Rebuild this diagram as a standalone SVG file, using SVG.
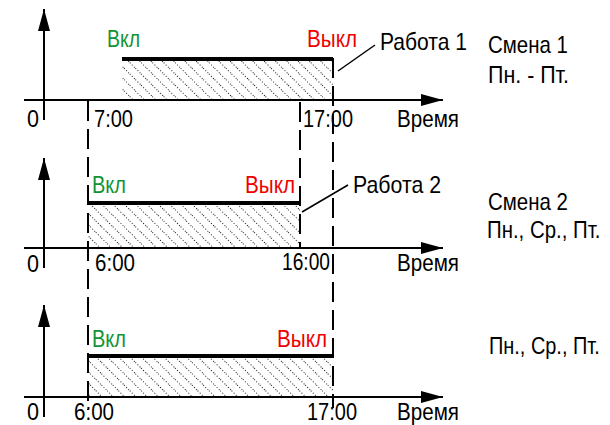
<svg xmlns="http://www.w3.org/2000/svg" width="610" height="425" viewBox="0 0 610 425">
<style>
text{font-family:"Liberation Sans",Arial,sans-serif;font-size:24px;fill:#000}
.on{fill:#119433}
.off{fill:#f00000}
.ax{stroke:#000;stroke-width:2;fill:none}
.bar{stroke:#000;stroke-width:4}
.dash{stroke:#000;stroke-width:2;stroke-dasharray:20 8;fill:none}
.lead{stroke:#000;stroke-width:1.5}
</style>
<defs>
<marker id="ah" markerWidth="22" markerHeight="12" refX="22" refY="6" orient="auto" markerUnits="userSpaceOnUse">
<path d="M0,0 L22,6 L0,12 Z" fill="#000"/>
</marker>
<pattern id="hatch" patternUnits="userSpaceOnUse" width="8" height="8" patternTransform="rotate(45)">
<line x1="0" y1="0.5" x2="8" y2="0.5" stroke="#222" stroke-width="1" stroke-dasharray="1 2"/>
</pattern>
</defs>

<g id="panel1">
<rect x="122" y="60" width="211" height="40" fill="url(#hatch)"/>
<line class="bar" x1="122" y1="59" x2="333" y2="59"/>
<line class="ax" x1="44" y1="120" x2="44" y2="9" marker-end="url(#ah)"/>
<line class="ax" x1="24" y1="100" x2="443" y2="100" marker-end="url(#ah)"/>
<text x="27" y="127" textLength="12" lengthAdjust="spacingAndGlyphs">0</text>
<text x="94" y="127" textLength="39" lengthAdjust="spacingAndGlyphs">7:00</text>
<text x="303" y="127" textLength="50" lengthAdjust="spacingAndGlyphs">17:00</text>
<text x="397" y="127" textLength="62" lengthAdjust="spacingAndGlyphs">Время</text>
<text class="on" x="107" y="47" textLength="33" lengthAdjust="spacingAndGlyphs">Вкл</text>
<text class="off" x="307" y="47" textLength="50" lengthAdjust="spacingAndGlyphs">Выкл</text>
<text x="380" y="50" textLength="87" lengthAdjust="spacingAndGlyphs">Работа 1</text>
<text x="488" y="53" textLength="80" lengthAdjust="spacingAndGlyphs">Смена 1</text>
<text x="488" y="83" textLength="81" lengthAdjust="spacingAndGlyphs">Пн. - Пт.</text>
</g>

<g id="panel2">
<rect x="88" y="204" width="212" height="44" fill="url(#hatch)"/>
<line class="bar" x1="88" y1="203" x2="300" y2="203"/>
<line class="ax" x1="44" y1="268" x2="44" y2="158" marker-end="url(#ah)"/>
<line class="ax" x1="24" y1="248" x2="443" y2="248" marker-end="url(#ah)"/>
<text x="27" y="272" textLength="12" lengthAdjust="spacingAndGlyphs">0</text>
<text x="95" y="271" textLength="40" lengthAdjust="spacingAndGlyphs">6:00</text>
<text x="282" y="270" textLength="48" lengthAdjust="spacingAndGlyphs">16:00</text>
<text x="397" y="271" textLength="62" lengthAdjust="spacingAndGlyphs">Время</text>
<text class="on" x="92" y="193" textLength="34" lengthAdjust="spacingAndGlyphs">Вкл</text>
<text class="off" x="245" y="193" textLength="50" lengthAdjust="spacingAndGlyphs">Выкл</text>
<text x="353" y="193" textLength="88" lengthAdjust="spacingAndGlyphs">Работа 2</text>
<text x="488" y="210" textLength="80" lengthAdjust="spacingAndGlyphs">Смена 2</text>
<text transform="translate(487,238) scale(0.85,1)">Пн., Ср., Пт.</text>
</g>

<g id="panel3">
<rect x="88" y="358" width="245" height="39" fill="url(#hatch)"/>
<line class="bar" x1="88" y1="356" x2="333" y2="356"/>
<line class="ax" x1="44" y1="417" x2="44" y2="305" marker-end="url(#ah)"/>
<line class="ax" x1="24" y1="397" x2="443" y2="397" marker-end="url(#ah)"/>
<text x="27" y="420" textLength="12" lengthAdjust="spacingAndGlyphs">0</text>
<text x="74" y="420" textLength="40" lengthAdjust="spacingAndGlyphs">6:00</text>
<text x="307" y="420" textLength="50" lengthAdjust="spacingAndGlyphs">17:00</text>
<text x="397" y="420" textLength="62" lengthAdjust="spacingAndGlyphs">Время</text>
<text class="on" x="92" y="347" textLength="34" lengthAdjust="spacingAndGlyphs">Вкл</text>
<text class="off" x="277" y="347" textLength="50" lengthAdjust="spacingAndGlyphs">Выкл</text>
<text transform="translate(489,354) scale(0.83,1)">Пн., Ср., Пт.</text>
</g>

<g id="connectors">
<line class="dash" x1="88" y1="101" x2="88" y2="410"/>
<line class="dash" x1="300" y1="102" x2="300" y2="248"/>
<line class="dash" x1="333" y1="58" x2="333" y2="408"/>
<line class="lead" x1="338" y1="71" x2="375" y2="45"/>
<line class="lead" x1="302" y1="212" x2="348" y2="185"/>
</g>
</svg>
